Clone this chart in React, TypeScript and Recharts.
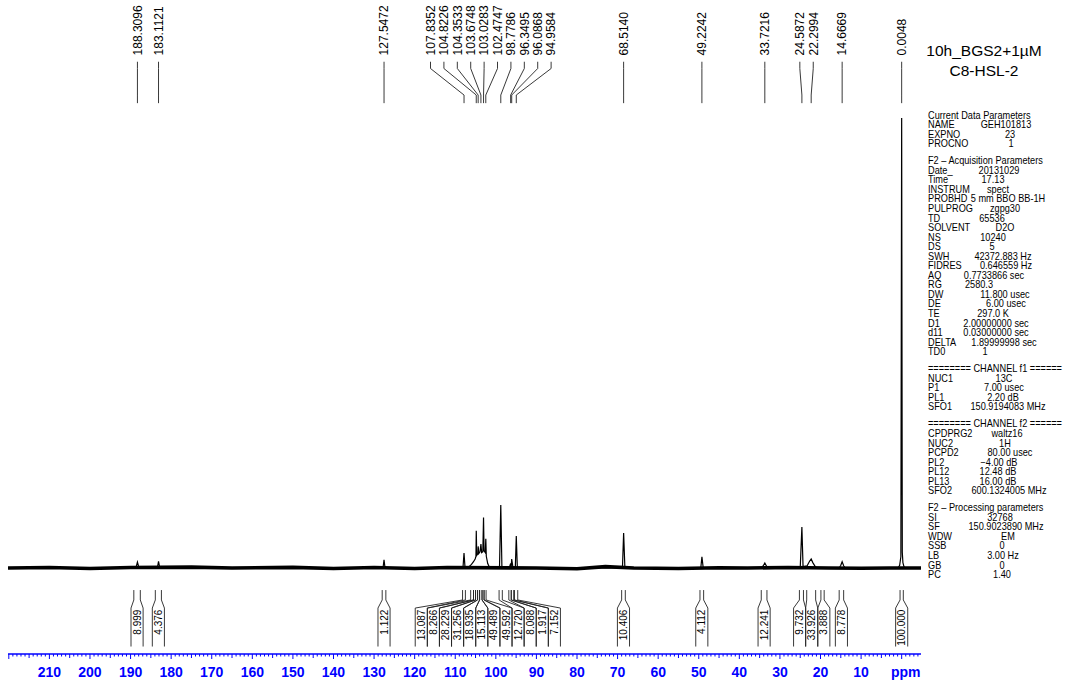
import React from 'react';
import { ComposedChart, Line, XAxis, YAxis, ReferenceLine, Scatter } from 'recharts';

// ---------------- data ----------------
// 13C spectrum (ppm, relative intensity; tallest peak = 100)
const spectrumPoints: [number, number][] = [
  [220.2, 0], [189.0, 0], [188.6, 0.3], [188.31, 1.3], [188.0, 0.3], [187.6, 0],
  [183.4, 0], [183.11, 1.5], [182.8, 0],
  [127.8, 0], [127.55, 1.8], [127.3, 0],
  [108.1, 0], [107.84, 3.3], [107.6, 0.2],
  [106.6, 0.3], [106.0, 0.8], [105.5, 1.4], [105.1, 2.0], [104.9, 2.6], [104.82, 8.3], [104.7, 2.8],
  [104.4, 3.2], [104.35, 4.8], [104.2, 3.2], [103.9, 3.6], [103.67, 5.3], [103.5, 3.4], [103.2, 3.6],
  [103.03, 11.2], [102.9, 3.8], [102.6, 3.4], [102.47, 6.5], [102.35, 2.6], [102.0, 1.0], [101.6, 0.2], [101.2, 0],
  [99.1, 0], [98.78, 14.0], [98.5, 0],
  [96.7, 0], [96.35, 1.0], [96.2, 0.3], [96.09, 2.0], [95.8, 0.2],
  [95.2, 0], [94.96, 7.1], [94.7, 0],
  [68.8, 0], [68.51, 7.8], [68.2, 0],
  [49.5, 0], [49.22, 2.5], [48.9, 0],
  [34.6, 0], [34.1, 0.5], [33.72, 1.1], [33.3, 0.4], [32.8, 0],
  [25.0, 0], [24.59, 9.1], [24.3, 0.3], [23.3, 0.5], [22.7, 1.5], [22.3, 2.0], [21.9, 1.2], [21.3, 0.3], [20.8, 0],
  [15.4, 0], [15.0, 0.6], [14.67, 1.4], [14.3, 0.5], [13.9, 0],
  [0.9, 0], [0.5, 0.6], [0.2, 2.5], [0.0048, 100], [-0.15, 3.5], [-0.3, 1.2], [-0.6, 0.2], [-1.0, 0],
  [-4.76, 0],
];

// baseline noise band (slight drift)
const baselinePoints: [number, number][] = [
  [220.2, 0], [210, 0.1], [200, -0.1], [190, 0.1], [175, 0.2], [165, 0.0], [150, 0.15], [140, -0.1],
  [130, 0.1], [120, -0.1], [112, 0.1], [90, 0.0], [80, -0.15], [73, 0.3], [66, 0.0], [55, -0.1],
  [45, 0.05], [38, 0.0], [28, 0.1], [18, 0.0], [10, -0.05], [3, 0.0], [-4.76, 0],
];

// peak pick labels
const peakLabels = [
  '188.3096', '183.1121', '127.5472', '107.8352', '104.8226', '104.3533', '103.6748', '103.0283',
  '102.4747', '98.7786', '96.3495', '96.0868', '94.9584', '68.5140', '49.2242', '33.7216',
  '24.5872', '22.2994', '14.6669', '0.0048',
];

// integrals
const integralValues = [
  '8.999', '4.376', '1.122', '13.087', '8.266', '28.229', '31.256', '18.935', '15.113', '49.489',
  '49.592', '12.720', '8.088', '1.917', '7.152', '10.406', '4.112', '12.241', '9.732', '33.926',
  '3.888', '8.778', '100.000',
];
const integralStart = [
  189.2, 183.9, 128.0, 108.2, 106.2, 105.5, 105.0, 104.5, 104.0, 103.4,
  102.9, 99.2, 96.8, 96.2, 95.4, 69.0, 49.7, 34.6, 25.2, 23.4,
  19.9, 15.4, 0.4,
];
const integralEnd = [
  187.6, 182.4, 127.1, 107.5, 105.5, 105.0, 104.5, 104.0, 103.4, 102.9,
  102.4, 98.4, 96.2, 95.6, 94.6, 68.1, 48.8, 33.2, 24.2, 21.2,
  19.1, 14.3, -0.4,
];

const axisTickValues = Array.from({ length: 225 }, (_, i) => 220 - i);

const titleLines = ['10h_BGS2+1µM', 'C8-HSL-2'];

const paramSections: [string, [string, string][]][] = [
  ['Current Data Parameters', [['NAME', 'GEH101813'], ['EXPNO', '23'], ['PROCNO', '1']]],
  ['F2 – Acquisition Parameters', [
    ['Date_', '20131029'], ['Time', '17.13'], ['INSTRUM', 'spect'], ['PROBHD', '5 mm BBO BB-1H'],
    ['PULPROG', 'zgpg30'], ['TD', '65536'], ['SOLVENT', 'D2O'], ['NS', '10240'], ['DS', '5'],
    ['SWH', '42372.883 Hz'], ['FIDRES', '0.646559 Hz'], ['AQ', '0.7733866 sec'], ['RG', '2580.3'],
    ['DW', '11.800 usec'], ['DE', '6.00 usec'], ['TE', '297.0 K'], ['D1', '2.00000000 sec'],
    ['d11', '0.03000000 sec'], ['DELTA', '1.89999998 sec'], ['TD0', '1']]],
  ['======== CHANNEL f1 ======', [['NUC1', '13C'], ['P1', '7.00 usec'], ['PL1', '2.20 dB'], ['SFO1', '150.9194083 MHz']]],
  ['======== CHANNEL f2 ======', [
    ['CPDPRG2', 'waltz16'], ['NUC2', '1H'], ['PCPD2', '80.00 usec'], ['PL2', '−4.00 dB'],
    ['PL12', '12.48 dB'], ['PL13', '16.00 dB'], ['SFO2', '600.1324005 MHz']]],
  ['F2 – Processing parameters', [
    ['SI', '32768'], ['SF', '150.9023890 MHz'], ['WDW', 'EM'], ['SSB', '0'], ['LB', '3.00 Hz'],
    ['GB', '0'], ['PC', '1.40']]],
];
// value column centres (page x)
const paramValueX: number[][] = [
  [1006, 1010, 1011],
  [999, 993, 998, 1008, 1005, 992, 1005, 993, 992, 1003, 1006, 994, 979, 1005, 1006, 993, 996, 996, 1004, 985],
  [1004, 1004, 1003, 1008],
  [1007, 1005, 1010, 999, 998, 998, 1009],
  [1000, 1006, 1008, 1002, 1003, 1002, 1002],
];

// ---------------- layout ----------------
const FONT = '"Liberation Sans", Arial, Helvetica, sans-serif';
const BLUE = '#0000ff';
const W = 1068;
const H = 687;
const X_MIN = -4.76;
const X_MAX = 220.2;
const Y_MIN = -19.11;
const Y_MAX = 126.22;
const MARGIN = { top: 0, right: 147, bottom: 0, left: 8 };
const PLOT_W = W - MARGIN.left - MARGIN.right;
const PPM_PER_PX = (X_MAX - X_MIN) / PLOT_W;

// annotation levels (in intensity units)
const LBL_TEXT = 113.9;
const LBL_TOP = 112.5;
const LBL_B1 = 111.0;
const LBL_B2 = 105.1;
const LBL_BOT = 103.3;
const INT_TOP = -4.9;
const INT_STUB = -7.1;
const INT_BOX = -8.9;
const INT_BOTTOM = -17.45;
const INT_TEXT = -9.25;

const PANEL_X = 928;
const PANEL_SX = 0.92;

function spread(centers: number[], gap: number): number[] {
  let groups: { idx: number[]; sum: number }[] = centers.map((c, i) => ({ idx: [i], sum: c }));
  let merged = true;
  while (merged) {
    merged = false;
    for (let k = 0; k < groups.length - 1; k++) {
      const a = groups[k];
      const b = groups[k + 1];
      const am = a.sum / a.idx.length;
      const bm = b.sum / b.idx.length;
      const aLow = am - ((a.idx.length - 1) / 2) * gap;
      const bHigh = bm + ((b.idx.length - 1) / 2) * gap;
      if (aLow - bHigh < gap) {
        groups.splice(k, 2, { idx: [...a.idx, ...b.idx], sum: a.sum + b.sum });
        merged = true;
        break;
      }
    }
  }
  const out: number[] = new Array(centers.length);
  groups.forEach((g) => {
    const n = g.idx.length;
    const m = g.sum / n;
    g.idx.forEach((i, j) => {
      out[i] = m + ((n - 1) / 2 - j) * gap;
    });
  });
  return out;
}

const spectrumData = spectrumPoints.map(([ppm, v]) => ({ ppm, v }));
const baselineData = baselinePoints.map(([ppm, v]) => ({ ppm, v }));

const peakPpms = peakLabels.map((s) => parseFloat(s));
const labelPpms = spread(peakPpms, 13.4 * PPM_PER_PX);
const peakLabelData = peakLabels.map((label, i) => ({ ppm: labelPpms[i], v: LBL_TEXT, label }));

type Pt = { x: number; y: number };
const labelSegs: [Pt, Pt][] = [];
peakPpms.forEach((p, i) => {
  const lx = labelPpms[i];
  labelSegs.push([{ x: lx, y: LBL_TOP }, { x: lx, y: LBL_B1 }]);
  labelSegs.push([{ x: lx, y: LBL_B1 }, { x: p, y: LBL_B2 }]);
  labelSegs.push([{ x: p, y: LBL_B2 }, { x: p, y: LBL_BOT }]);
});

const integralCenters = integralStart.map((s, i) => (s + integralEnd[i]) / 2);
const BOX_W = 12.1 * PPM_PER_PX;
const boxCenters = spread(integralCenters, BOX_W);
const integralTextData = integralValues.map((label, i) => ({ ppm: boxCenters[i], v: INT_TEXT, label }));
const integralSegs: [Pt, Pt][] = [];
integralStart.forEach((s, i) => {
  const e = integralEnd[i];
  const bl = boxCenters[i] + BOX_W / 2;
  const br = boxCenters[i] - BOX_W / 2;
  integralSegs.push([{ x: s, y: INT_TOP }, { x: s, y: INT_STUB }]);
  integralSegs.push([{ x: e, y: INT_TOP }, { x: e, y: INT_STUB }]);
  integralSegs.push([{ x: s, y: INT_STUB }, { x: bl, y: INT_BOX }]);
  integralSegs.push([{ x: e, y: INT_STUB }, { x: br, y: INT_BOX }]);
  integralSegs.push([{ x: bl, y: INT_BOX }, { x: bl, y: INT_BOTTOM }]);
  integralSegs.push([{ x: br, y: INT_BOX }, { x: br, y: INT_BOTTOM }]);
});

const AxisTick = (props: any) => {
  const { x, y, payload } = props;
  const val = Number(payload.value);
  const major = val % 10 === 0;
  const mid = val % 5 === 0;
  const len = major ? 5 : mid ? 4 : 2.5;
  const showLabel = major && val >= 0 && val <= 210;
  return (
    <g>
      <line x1={x} x2={x} y1={y} y2={y + len} stroke={BLUE} strokeWidth={1} />
      {showLabel && (
        <text
          x={val === 0 ? x + 4 : x}
          y={y + 23}
          textAnchor="middle"
          fill={BLUE}
          fontWeight="bold"
          fontSize={14}
          fontFamily={FONT}
        >
          {val === 0 ? 'ppm' : String(val)}
        </text>
      )}
    </g>
  );
};

const PeakLabelShape = (p: any) => (
  <text
    x={p.cx}
    y={p.cy}
    dy="0.36em"
    transform={`rotate(-90 ${p.cx} ${p.cy})`}
    fontSize={12}
    fontFamily={FONT}
    fill="#000"
  >
    {p.payload.label}
  </text>
);

const IntegralTextShape = (p: any) => (
  <text
    x={p.cx}
    y={p.cy}
    dy="0.36em"
    textAnchor="end"
    transform={`rotate(-90 ${p.cx} ${p.cy})`}
    fontSize={10}
    fontFamily={FONT}
    fill="#000"
  >
    {p.payload.label}
  </text>
);

const ParamPanel = () => {
  const rows: React.ReactNode[] = [];
  let lineIdx = 0;
  const lx = (absX: number) => (absX - PANEL_X) / PANEL_SX;
  paramSections.forEach(([header, items], si) => {
    const yOf = (li: number) => 115 + 9.55 * li + 7.45 * si + 3.6;
    rows.push(
      <text key={`h${si}`} x={0} y={yOf(lineIdx)} fontSize={10} fontFamily={FONT} fill="#000">
        {header}
      </text>,
    );
    lineIdx++;
    items.forEach(([k, v], ii) => {
      const y = yOf(lineIdx);
      rows.push(
        <text key={`k${si}-${ii}`} x={0} y={y} fontSize={10} fontFamily={FONT} fill="#000">
          {k}
        </text>,
      );
      rows.push(
        <text
          key={`v${si}-${ii}`}
          x={lx(paramValueX[si][ii])}
          y={y}
          textAnchor="middle"
          fontSize={10}
          fontFamily={FONT}
          fill="#000"
        >
          {v}
        </text>,
      );
      lineIdx++;
    });
  });
  return (
    <svg width={W} height={H} style={{ position: 'absolute', left: 0, top: 0, pointerEvents: 'none' }}>
      <text x={984} y={55.5} textAnchor="middle" fontSize={15.5} fontFamily={FONT} fill="#000">
        {titleLines[0]}
      </text>
      <text x={984} y={75.5} textAnchor="middle" fontSize={15.5} fontFamily={FONT} fill="#000">
        {titleLines[1]}
      </text>
      <g transform={`translate(${PANEL_X} 0) scale(${PANEL_SX} 1)`}>{rows}</g>
    </svg>
  );
};

export default function App() {
  return (
    <div
      style={{
        position: 'absolute',
        left: 0,
        top: 0,
        width: W,
        height: H,
        overflow: 'hidden',
        background: '#fff',
      }}
    >
      <ComposedChart width={W} height={H} margin={MARGIN}>
        <XAxis
          type="number"
          dataKey="ppm"
          domain={[X_MIN, X_MAX]}
          reversed
          allowDataOverflow
          ticks={axisTickValues}
          interval={0}
          tick={<AxisTick />}
          tickLine={false}
          tickSize={0}
          tickMargin={0}
          axisLine={{ stroke: BLUE, strokeWidth: 1.3 }}
          height={33}
        />
        <YAxis hide type="number" domain={[Y_MIN, Y_MAX]} allowDataOverflow />
        <Line
          data={baselineData}
          dataKey="v"
          type="linear"
          stroke="#000"
          strokeWidth={3.6}
          dot={false}
          activeDot={false}
          isAnimationActive={false}
        />
        <Line
          data={spectrumData}
          dataKey="v"
          type="linear"
          stroke="#000"
          strokeWidth={1.2}
          dot={false}
          activeDot={false}
          isAnimationActive={false}
        />
        {labelSegs.map((seg, i) => (
          <ReferenceLine key={`ls${i}`} segment={seg} stroke="#222" strokeWidth={0.9} ifOverflow="visible" />
        ))}
        {integralSegs.map((seg, i) => (
          <ReferenceLine key={`is${i}`} segment={seg} stroke="#222" strokeWidth={0.9} ifOverflow="visible" />
        ))}
        <Scatter data={peakLabelData} dataKey="v" shape={<PeakLabelShape />} isAnimationActive={false} />
        <Scatter data={integralTextData} dataKey="v" shape={<IntegralTextShape />} isAnimationActive={false} />
      </ComposedChart>
      <ParamPanel />
    </div>
  );
}
